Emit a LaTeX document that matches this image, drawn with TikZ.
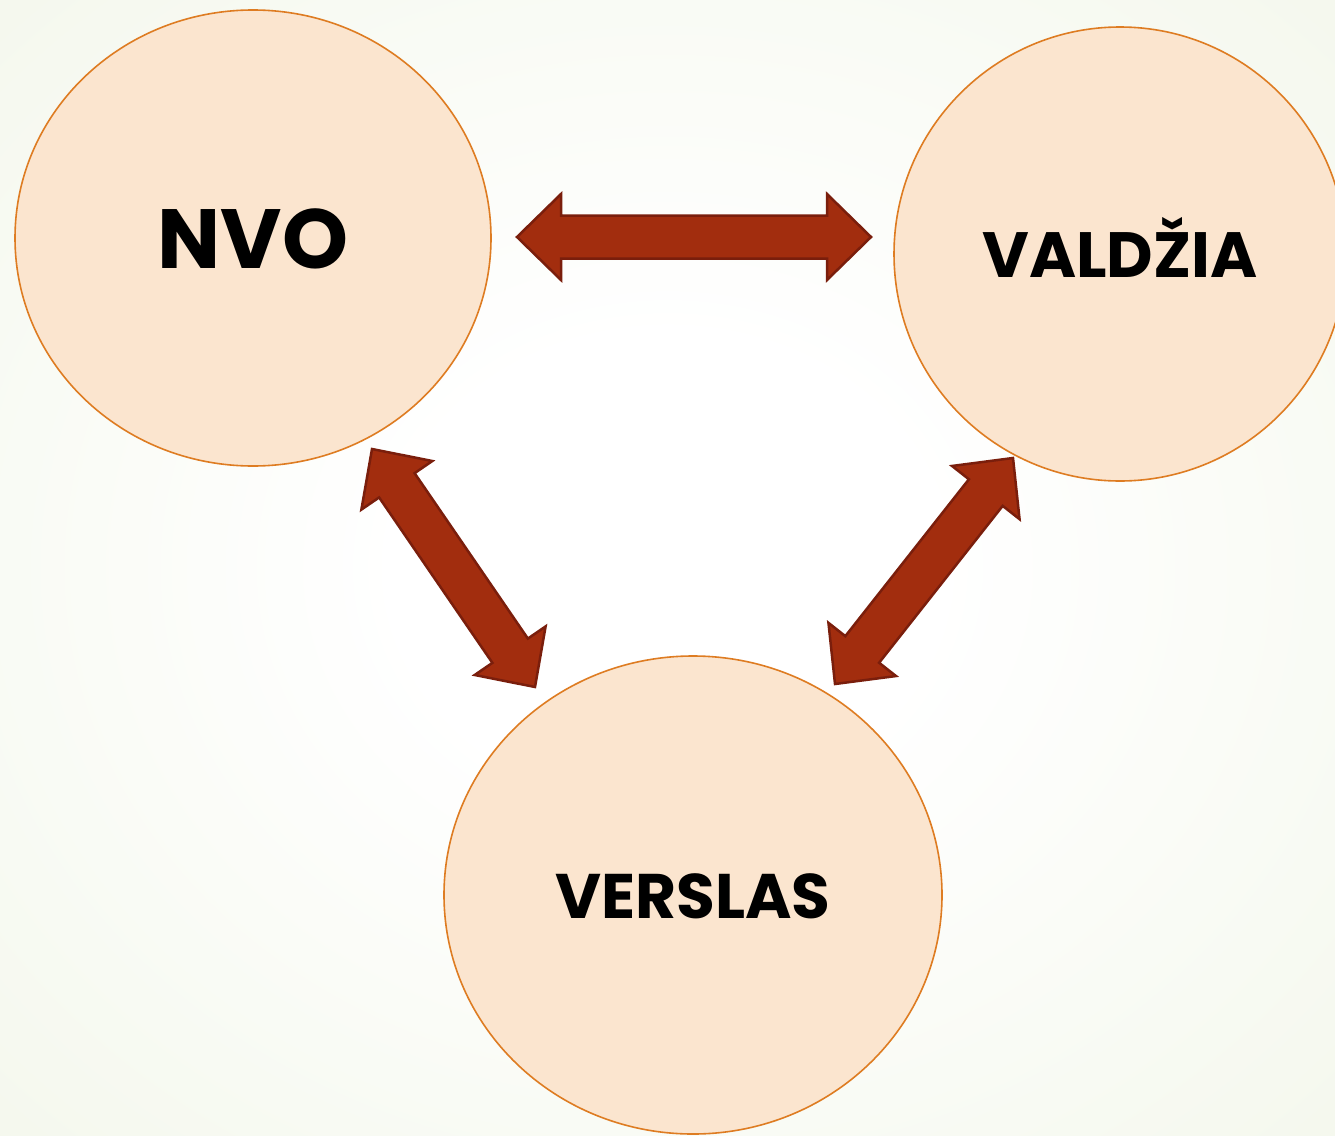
\documentclass[tikz,border=0pt]{standalone}
\usepackage{fontspec}
\newfontfamily\labelfont{Poppins}
\usetikzlibrary{shapes.geometric,calc}
\definecolor{bggreen}{HTML}{E9F0DA}
\definecolor{peach}{HTML}{FBE5CF}
\definecolor{ringorange}{HTML}{DE7C22}
\definecolor{arrowred}{HTML}{A22D0E}
\definecolor{arrowdark}{HTML}{7A1E0C}
\pgfdeclareradialshading{glow}{\pgfpoint{0bp}{0bp}}{color(0bp)=(white);color(10bp)=(white);color(64bp)=(bggreen)}
% fat double arrow from tip #1 to tip #2
\newcommand{\fatarrow}[2]{%
  \draw[fat] (#1) -- ($(#1)!44pt!(#2)!43pt!90:(#2)$) -- ($(#1)!44pt!(#2)!21.5pt!90:(#2)$)
    -- ($(#2)!44pt!(#1)!21.5pt!-90:(#1)$) -- ($(#2)!44pt!(#1)!43pt!-90:(#1)$)
    -- (#2) -- ($(#2)!44pt!(#1)!43pt!90:(#1)$) -- ($(#2)!44pt!(#1)!21.5pt!90:(#1)$)
    -- ($(#1)!44pt!(#2)!21.5pt!-90:(#2)$) -- ($(#1)!44pt!(#2)!43pt!-90:(#2)$) -- cycle;}

\begin{document}
\begin{tikzpicture}[x=1pt,y=-1pt,
    circ/.style={ellipse, draw=ringorange, line width=1.6pt, fill=peach, inner sep=0pt, text depth=0pt},
    fat/.style={fill=arrowred, draw=arrowdark, line width=2.5pt, line join=miter}]
  \useasboundingbox (0,0) rectangle (1335,1135);
  \shade[shading=glow] (0,0) rectangle (1335,1135);
  % circles
  \node[circ, minimum width=476pt, minimum height=456pt, text height=60pt,
        font=\labelfont\bfseries\fontsize{84}{84}\selectfont] (nvo) at (253,238) {NVO};
  \node[circ, minimum width=452pt, minimum height=454pt, text height=46pt,
        font=\labelfont\bfseries\fontsize{64}{64}\selectfont] (valdzia) at (1120,254) {VALDŽIA};
  \node[circ, minimum width=498pt, minimum height=478pt, text height=46pt,
        font=\labelfont\bfseries\fontsize{63}{63}\selectfont] (verslas) at (693,895) {VERSLAS};
  % arrow tips
  \coordinate (h1) at (517,237);
  \coordinate (h2) at (871,237);
  \coordinate (l1) at (372,449);
  \coordinate (l2) at (535,687);
  \coordinate (r1) at (1013,458);
  \coordinate (r2) at (835,684);
  \fatarrow{h1}{h2}
  \fatarrow{l1}{l2}
  \fatarrow{r1}{r2}
\end{tikzpicture}
\end{document}
